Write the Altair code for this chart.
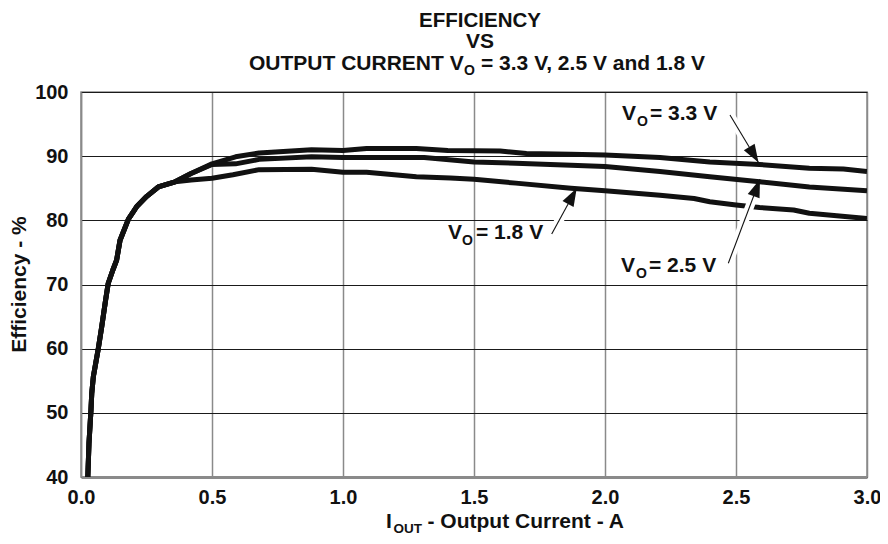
import math
import altair as alt
import pandas as pd

# ---------------- data ----------------
# shared rising part at light load (all three curves overlap)
low_I = [0.026, 0.0305, 0.038, 0.041, 0.047, 0.066, 0.079, 0.094, 0.104, 0.122,
         0.136, 0.149, 0.181, 0.212, 0.250, 0.295, 0.359]
low_E = [40.0, 45.3, 50.4, 53.0, 55.6, 60.0, 63.4, 67.6, 70.2, 72.3,
         73.8, 76.9, 80.2, 82.1, 83.7, 85.2, 86.0]

I33 = [0.42, 0.50, 0.59, 0.68, 0.88, 1.00, 1.09, 1.28, 1.40, 1.60, 1.70, 1.87,
       2.00, 2.21, 2.40, 2.59, 2.78, 2.91, 3.00]
E33 = [87.3, 88.8, 89.9, 90.5, 91.0, 90.9, 91.2, 91.2, 90.9, 90.8, 90.4, 90.3,
       90.2, 89.8, 89.1, 88.7, 88.1, 88.0, 87.6]

I25 = [0.42, 0.50, 0.59, 0.68, 0.88, 1.00, 1.31, 1.50, 1.66, 1.87, 2.00, 2.21,
       2.40, 2.59, 2.78, 3.00]
E25 = [87.3, 88.7, 88.8, 89.5, 89.9, 89.8, 89.8, 89.1, 88.9, 88.6, 88.4, 87.6,
       86.8, 86.0, 85.2, 84.6]

I18 = [0.42, 0.50, 0.58, 0.68, 0.88, 1.00, 1.09, 1.28, 1.41, 1.50, 1.66, 1.87,
       2.00, 2.21, 2.34, 2.40, 2.50, 2.59, 2.72, 2.78, 3.00]
E18 = [86.3, 86.55, 87.1, 87.9, 87.95, 87.5, 87.5, 86.8, 86.6, 86.4, 85.8, 85.0,
       84.6, 83.9, 83.4, 82.9, 82.4, 82.0, 81.6, 81.1, 80.3]

series_names = ["3.3 V", "2.5 V", "1.8 V"]
x_ticks = [0.0, 0.5, 1.0, 1.5, 2.0, 2.5, 3.0]
y_ticks = [40, 50, 60, 70, 80, 90, 100]

rows = []
for name, I, E in zip(series_names, [I33, I25, I18], [E33, E25, E18]):
    for i, e in zip(low_I + I, low_E + E):
        rows.append({"series": name, "I": i, "E": e})
df = pd.DataFrame(rows)

# ---------------- layout (pixels) ----------------
W, H = 786, 385
OX, OY = 81, 92           # plot origin on the page
X0, X1, Y0, Y1 = 0.0, 3.0, 40.0, 100.0
FONT = "Liberation Sans"
INK = "#111111"


def px2I(px):
    return X0 + (px - OX) / W * (X1 - X0)


def px2E(py):
    return Y1 - (py - OY) / H * (Y1 - Y0)


xs = alt.Scale(domain=[X0, X1], nice=False, zero=False)
ys = alt.Scale(domain=[Y0, Y1], nice=False, zero=False)

curves = alt.Chart(df).mark_line(strokeWidth=5, color=INK, strokeJoin="round",
                                 strokeCap="butt", clip=True).encode(
    x=alt.X("I:Q", scale=xs,
            axis=alt.Axis(values=x_ticks, format=".1f", title=None, grid=True,
                          gridColor="#8a8a8a", gridWidth=1.5, domain=True,
                          domainColor="#8a8a8a", domainWidth=3, ticks=False,
                          labelPadding=10, labelFontSize=20, labelFont=FONT,
                          labelFontWeight="bold", labelColor=INK,
                          labelFlush=False)),
    y=alt.Y("E:Q", scale=ys,
            axis=alt.Axis(values=y_ticks, title=None, grid=True,
                          gridColor="#1a1a1a", gridWidth=1, domain=True,
                          domainColor="#8a8a8a", domainWidth=1.5, ticks=False,
                          labelPadding=13, labelFontSize=20, labelFont=FONT,
                          labelFontWeight="bold", labelColor=INK,
                          labelFlush=False)),
    detail="series:N",
)

# ---------------- arrows ----------------
arrows_px = [  # start (x,y) -> tip (x,y) in page pixels
    (730.0, 115.0, 758.5, 162.5),
    (728.3, 263.3, 760.0, 179.3),
    (551.7, 234.0, 576.7, 188.3),
]
HEAD = 18.0
arr = []
for sx, sy, tx, ty in arrows_px:
    L = math.hypot(tx - sx, ty - sy)
    ux, uy = (tx - sx) / L, (ty - sy) / L
    bx, by = tx - ux * HEAD * 0.9, ty - uy * HEAD * 0.9
    cx, cy = tx - ux * HEAD / 2, ty - uy * HEAD / 2
    ang = math.degrees(math.atan2(ux, -uy)) % 360
    arr.append({"x1": px2I(sx), "y1": px2E(sy), "x2": px2I(tx), "y2": px2E(ty),
                "hx2": px2I(bx), "hy2": px2E(by),
                "cx": px2I(cx), "cy": px2E(cy), "ang": ang})
adf = pd.DataFrame(arr)

halo = alt.Chart(adf).mark_rule(color="white", strokeWidth=9).encode(
    x=alt.X("x1:Q", scale=xs), y=alt.Y("y1:Q", scale=ys),
    x2="hx2:Q", y2="hy2:Q")
shaft = alt.Chart(adf).mark_rule(color=INK, strokeWidth=1.1).encode(
    x=alt.X("x1:Q", scale=xs), y=alt.Y("y1:Q", scale=ys),
    x2="x2:Q", y2="y2:Q")
heads = alt.Chart(adf).mark_point(shape="M0,-1L0.7,1L-0.7,1Z", filled=True,
                                  color=INK, opacity=1, size=HEAD * HEAD).encode(
    x=alt.X("cx:Q", scale=xs), y=alt.Y("cy:Q", scale=ys),
    angle=alt.Angle("ang:Q", scale=None))

# ---------------- texts (page pixel positions) ----------------
left_texts = [
    # title line 3
    (249, 70, "OUTPUT CURRENT V", 21),
    (464, 75, "O", 14),
    (481, 70, "= 3.3 V, 2.5 V and 1.8 V", 21),
    # annotations
    (622, 120, "V", 21), (637, 125.5, "O", 14), (650, 120, "= 3.3 V", 21),
    (621, 272, "V", 21), (636, 277.5, "O", 14), (649, 272, "= 2.5 V", 21),
    (448, 239, "V", 21), (462, 244.5, "O", 14), (476, 239, "= 1.8 V", 21),
    # x axis title
    (386, 528, "I", 21), (393.5, 533, "OUT", 13.5), (427.5, 528, "- Output Current - A", 21),
]
center_texts = [
    (480, 26.5, "EFFICIENCY", 20.5),
    (480, 48, "VS", 21),
]


def tdf(items):
    return pd.DataFrame([{"px": a - OX, "py": b - OY, "t": t, "fs": s}
                         for a, b, t, s in items])


ltext = alt.Chart(tdf(left_texts)).mark_text(
    align="left", baseline="alphabetic", font=FONT, fontWeight="bold", color=INK
).encode(x=alt.X("px:Q", scale=None), y=alt.Y("py:Q", scale=None),
         text="t:N", size=alt.Size("fs:Q", scale=None, legend=None))
ctext = alt.Chart(tdf(center_texts)).mark_text(
    align="center", baseline="alphabetic", font=FONT, fontWeight="bold", color=INK
).encode(x=alt.X("px:Q", scale=None), y=alt.Y("py:Q", scale=None),
         text="t:N", size=alt.Size("fs:Q", scale=None, legend=None))
ytitle = alt.Chart(tdf([(26, 284.5, "Efficiency - %", 21)])).mark_text(
    align="center", baseline="alphabetic", font=FONT, fontWeight="bold",
    color=INK, angle=270
).encode(x=alt.X("px:Q", scale=None), y=alt.Y("py:Q", scale=None),
         text="t:N", size=alt.Size("fs:Q", scale=None, legend=None))

chart = alt.layer(curves, halo, shaft, heads, ltext, ctext, ytitle).properties(
    width=W, height=H,
    autosize=alt.AutoSizeParams(type="none"),
    padding={"left": OX - 8, "top": OY - 8, "right": 888 - 16 - (OX - 8) - W,
             "bottom": 544 - 16 - (OY - 8) - H},
    background="white",
).configure_view(stroke="#8a8a8a", strokeWidth=1.5)

chart.save("out.html", embed_options={"renderer": "svg", "actions": False})
